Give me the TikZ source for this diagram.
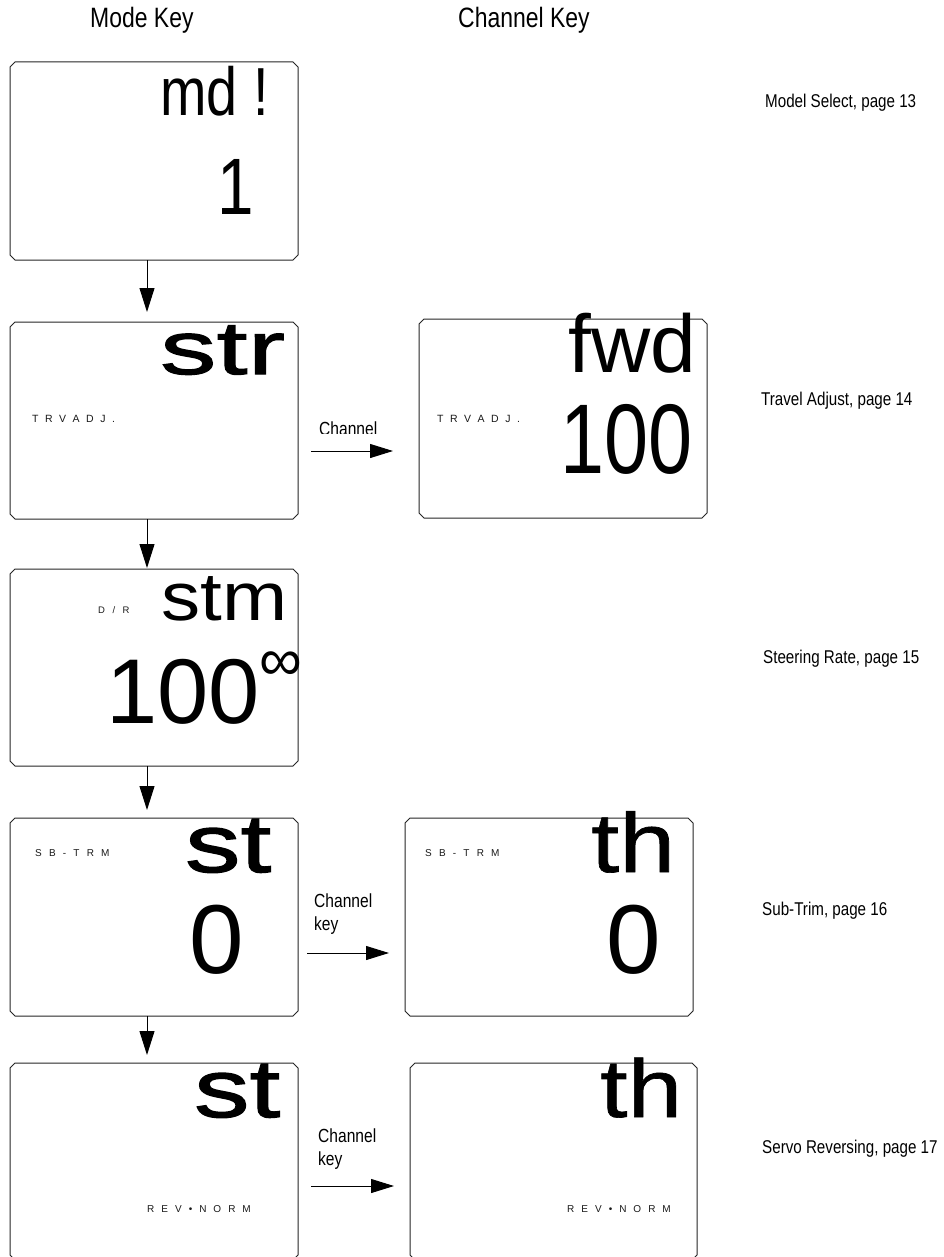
\documentclass[tikz,border=0pt]{standalone}
\usepackage{fontspec}
\setmainfont{Liberation Sans}
\newfontfamily\fnar[FakeStretch=0.82]{Liberation Sans}
\newfontfamily\fnarB[FakeStretch=0.8]{Liberation Sans}
\newfontfamily\fboldA[FakeStretch=1.5,FakeBold=1.6]{Liberation Sans}
\newfontfamily\fwidB[FakeStretch=1.15]{Liberation Sans}
\newfontfamily\fboldC[FakeStretch=1.35,FakeBold=1.6]{Liberation Sans}
\newfontfamily\fboldD[FakeStretch=1.2,FakeBold=0.8]{Liberation Sans}
\usetikzlibrary{arrows.meta}
\newcommand\chbox[1]{\draw[boxline] ([xshift=5pt]#1.north west) -- ([xshift=-5pt]#1.north east) -- ([yshift=-5pt]#1.north east) -- ([yshift=5pt]#1.south east) -- ([xshift=-5pt]#1.south east) -- ([xshift=5pt]#1.south west) -- ([yshift=5pt]#1.south west) -- ([yshift=-5pt]#1.north west) -- cycle;}
\newcommand\spcd[2]{{\spaceskip=#1\relax #2}}
\tikzset{
  screen/.style={rectangle, inner sep=0pt, outer sep=0pt, minimum width=288pt, minimum height=198pt},
  boxline/.style={line width=1pt, draw=black!85},
  arr/.style={line width=1pt, -{Triangle[length=24pt,width=15pt]}},
  harr/.style={line width=1pt, -{Triangle[length=23pt,width=14pt]}},
  big/.style={inner sep=0pt, anchor=base west},
  small/.style={inner sep=0pt, anchor=base west, text=black!90, font=\fontsize{10}{12}\selectfont},
  lab/.style={inner sep=0pt, anchor=base west, font=\fnar\fontsize{19}{22}\selectfont},
  side/.style={inner sep=0pt, anchor=base west, font=\fnar\fontsize{18.5}{22}\selectfont},
  head/.style={inner sep=0pt, anchor=base west, font=\fnar\fontsize{28}{32}\selectfont},
}
\begin{document}
\begin{tikzpicture}[x=1pt,y=-1pt]
\useasboundingbox (0,0) rectangle (944,1257);
\fill[white] (0,0) rectangle (944,1257);

% headers
\node[head] (hmode) at (90,28) {Mode Key};
\node[head] (hchan) at (458,28) {Channel Key};

% boxes
\node[screen] (B1) at (154,161) {};
\node[screen, minimum height=197pt] (B2) at (154,420.5) {};
\node[screen, minimum height=197pt] (B3) at (154,667.5) {};
\node[screen] (B4) at (154,917) {};
\node[screen, minimum height=197pt] (B5) at (154,1161.5) {};
\node[screen, minimum height=199pt] (R2) at (563,418.5) {};
\node[screen] (R4) at (549,917) {};
\node[screen, minimum width=287pt, minimum height=197pt] (R5) at (553.5,1161.5) {};
\chbox{B1}\chbox{B2}\chbox{B3}\chbox{B4}\chbox{B5}\chbox{R2}\chbox{R4}\chbox{R5}

% box 1
\node[big, font=\fnar\fontsize{68}{70}\selectfont] (t1a) at (160,116) {md !};
\node[big, font=\fnar\fontsize{80}{80}\selectfont] (t1b) at (217,215) {1};

% box 2
\node[big, font=\fboldA\fontsize{75}{75}\selectfont] (t2a) at (160,374) {str};
\node[small, font=\fontsize{10.5}{12}\selectfont] (t2b) at (32,422) {\spcd{6.5pt}{T R V A D J .}};
\node[big, font=\fontsize{82}{82}\selectfont] (r2a) at (568,372) {fwd};
\node[big, font=\fnarB\fontsize{99}{99}\selectfont] (r2b) at (560,473) {100};
\node[small, font=\fontsize{10.5}{12}\selectfont] (r2c) at (437,422) {\spcd{6.5pt}{T R V A D J .}};

% box 3
\node[big, font=\fwidB\fontsize{68}{68}\selectfont] (t3a) at (161,620) {stm};
\node[small, font=\fontsize{9.5}{12}\selectfont] (t3b) at (98,613.5) {\spcd{7.5pt}{D / R}};
\node[big, font=\fontsize{92}{92}\selectfont] (t3c) at (106,723) {100};
\node[big, font=\fontsize{60}{60}\selectfont] (t3d) at (259,680) {∞};

% box 4
\node[big, font=\fboldC\fontsize{82}{82}\selectfont] (t4a) at (185,872) {st};
\node[big, font=\fontsize{98}{98}\selectfont] (t4b) at (189,973) {0};
\node[small] (t4c) at (35,856.5) {\spcd{7.2pt}{S B - T R M}};
\node[big, font=\fboldD\fontsize{84}{84}\selectfont] (r4a) at (591,872) {th};
\node[big, font=\fontsize{98}{98}\selectfont] (r4b) at (606,973) {0};
\node[small] (r4c) at (425,856.5) {\spcd{7.2pt}{S B - T R M}};

% box 5
\node[big, font=\fboldC\fontsize{82}{82}\selectfont] (t5a) at (194,1117) {st};
\node[small] (t5b) at (147,1212.5) {\spcd{7pt}{R E V • N O R M}};
\node[big, font=\fboldD\fontsize{82}{82}\selectfont] (r5a) at (600,1117) {th};
\node[small] (r5b) at (567,1212.5) {\spcd{7pt}{R E V • N O R M}};

% vertical arrows
\draw[arr] ([xshift=-7pt]B1.south) -- ([xshift=-7pt,yshift=10pt]B2.north);
\draw[arr] ([xshift=-7pt]B2.south) -- ([xshift=-7pt,yshift=1pt]B3.north);
\draw[arr] ([xshift=-7pt]B3.south) -- ([xshift=-7pt,yshift=8pt]B4.north);
\draw[arr] ([xshift=-7pt]B4.south) -- ([xshift=-7pt,yshift=8pt]B5.north);

% horizontal arrows
\coordinate (h2a) at (311,451); \coordinate (h2b) at (393,451);
\coordinate (h4a) at (307,953); \coordinate (h4b) at (389,953);
\coordinate (h5a) at (311,1186); \coordinate (h5b) at (394,1186);
\draw[harr] (h2a) -- (h2b);
\draw[harr] (h4a) -- (h4b);
\draw[harr] (h5a) -- (h5b);

% channel labels
\begin{scope}
\clip (300,400) rectangle (410,433);
\node[lab] (c2) at (319,435.5) {Channel};
\end{scope}
\node[lab] (c4a) at (314,907) {Channel};
\node[lab] (c4b) at (314,930) {key};
\node[lab] (c5a) at (318,1142) {Channel};
\node[lab] (c5b) at (318,1165) {key};

% side labels
\node[side] (s1) at (765,108) {Model Select, page 13};
\node[side] (s2) at (761,405) {Travel Adjust, page 14};
\node[side] (s3) at (763,663) {Steering Rate, page 15};
\node[side] (s4) at (762,915) {Sub-Trim, page 16};
\node[side] (s5) at (762,1153) {Servo Reversing, page 17};
\end{tikzpicture}
\end{document}
